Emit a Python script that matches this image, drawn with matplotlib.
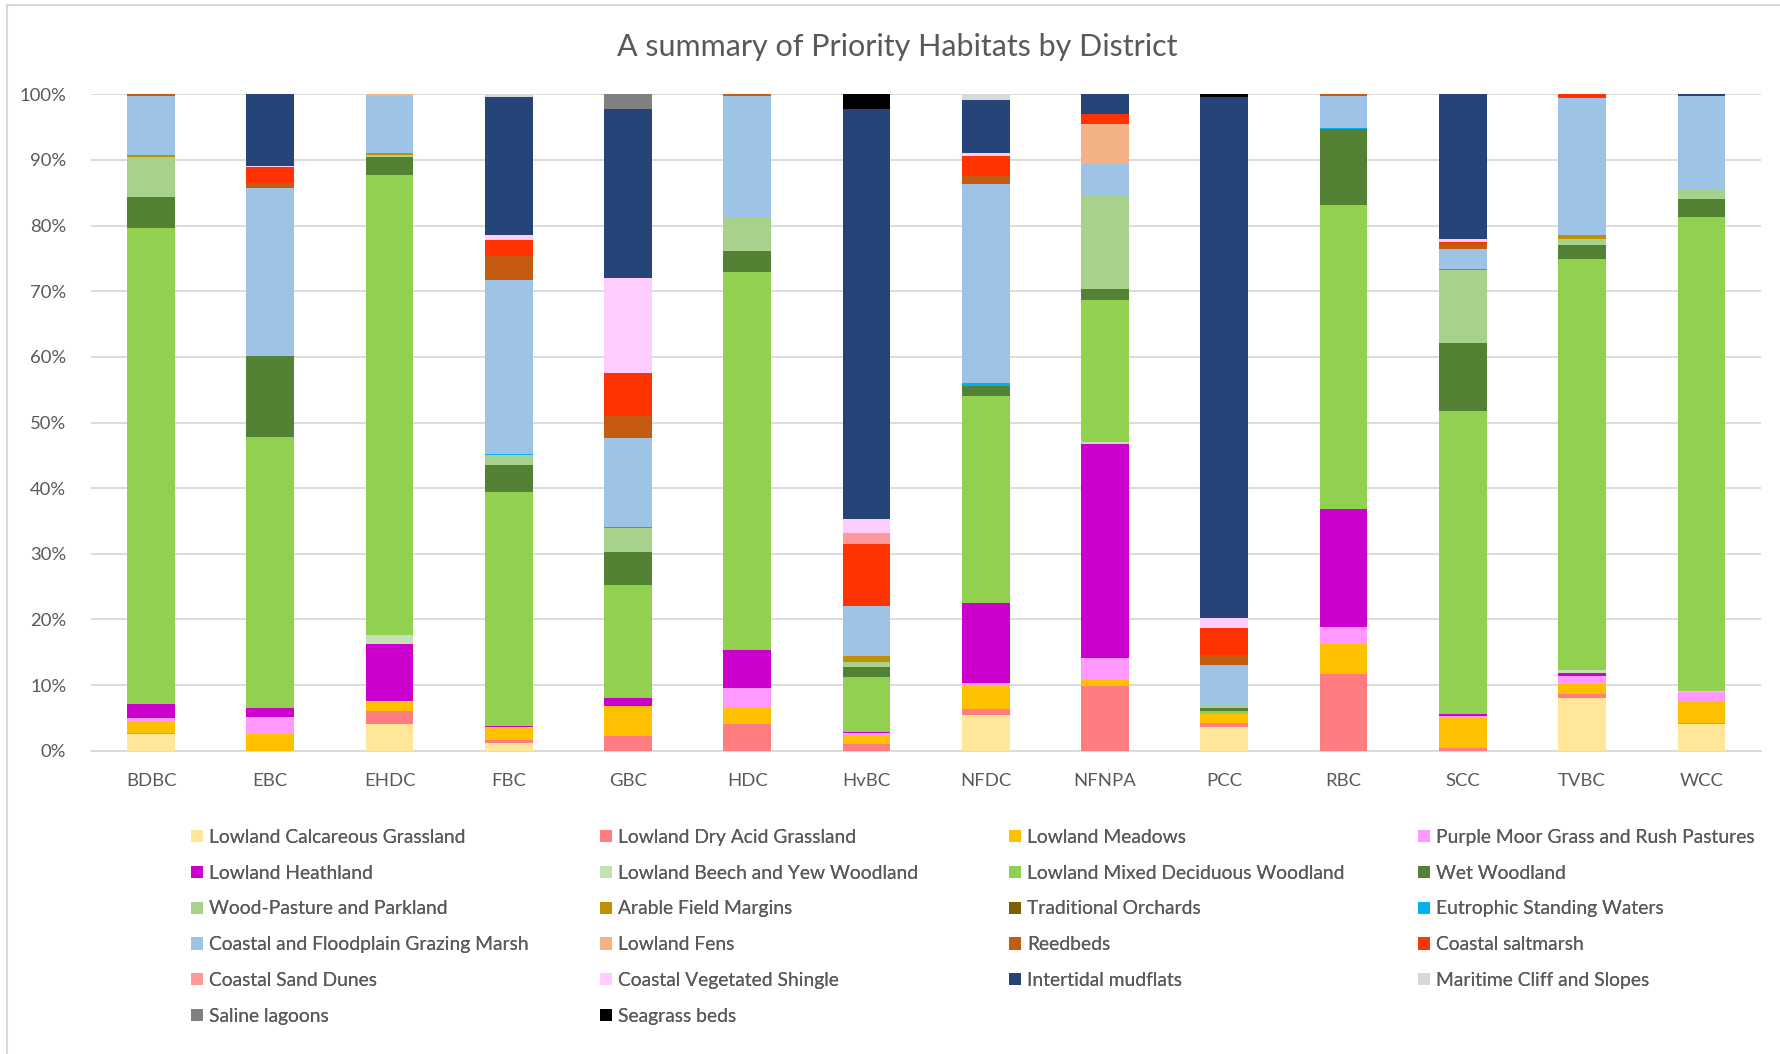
import matplotlib
matplotlib.use("Agg")
import matplotlib.pyplot as plt
from matplotlib.patches import Patch, Rectangle
from matplotlib.ticker import PercentFormatter
import numpy as np

plt.rcParams['font.family'] = ['Lato', 'DejaVu Sans']

districts = ["BDBC", "EBC", "EHDC", "FBC", "GBC", "HDC", "HvBC", "NFDC",
             "NFNPA", "PCC", "RBC", "SCC", "TVBC", "WCC"]

#                              BDBC  EBC  EHDC  FBC   GBC   HDC   HvBC  NFDC  NFNPA PCC   RBC   SCC   TVBC  WCC
lowland_calcareous_grassland = [2.5, 0.0, 4.1,  1.2,  0.0,  0.0,  0.0,  5.4,  0.0,  3.7,  0.0,  0.0,  8.0,  4.1]
lowland_dry_acid_grassland   = [0.2, 0.0, 1.9,  0.4,  2.2,  4.1,  1.0,  1.0,  9.9,  0.5, 11.7,  0.5,  0.7,  0.2]
lowland_meadows              = [1.9, 2.5, 1.4,  1.8,  4.7,  2.5,  1.4,  3.5,  0.9,  1.4,  4.5,  4.6,  1.4,  3.3]
purple_moor_grass            = [0.4, 2.7, 0.2,  0.2,  0.0,  2.9,  0.3,  0.5,  3.4,  0.0,  2.7,  0.2,  1.3,  1.3]
lowland_heathland            = [2.1, 1.3, 8.6,  0.2,  1.1,  5.8,  0.2, 12.1, 32.6,  0.0, 17.9,  0.3,  0.5,  0.0]
lowland_beech_yew            = [0.0, 0.0, 1.5,  0.0,  0.0,  0.0,  0.0,  0.0,  0.2,  0.0,  0.0,  0.0,  0.4,  0.2]
lowland_mixed_deciduous      = [72.5, 41.3, 70.0, 35.6, 17.2, 57.7, 8.3, 31.5, 21.6, 0.5, 46.4, 46.2, 62.6, 72.2]
wet_woodland                 = [4.7, 12.4, 2.7,  4.2,  5.1,  3.2,  1.6,  1.5,  1.8,  0.4, 11.5, 10.3,  2.1,  2.8]
wood_pasture_parkland        = [6.2, 0.0, 0.4,  1.5,  3.6,  4.9,  0.8,  0.0, 14.3,  0.4,  0.0, 11.1,  1.0,  1.5]
arable_field_margins         = [0.3, 0.0, 0.2,  0.0,  0.0,  0.1,  0.9,  0.0,  0.0,  0.0,  0.0,  0.0,  0.5,  0.0]
traditional_orchards         = [0.0, 0.0, 0.0,  0.0,  0.0,  0.0,  0.0,  0.0,  0.0,  0.0,  0.0,  0.0,  0.0,  0.0]
eutrophic_standing_waters    = [0.0, 0.0, 0.0,  0.1,  0.2,  0.0,  0.0,  0.6,  0.0,  0.0,  0.1,  0.2,  0.0,  0.0]
grazing_marsh                = [9.0, 25.6, 8.7, 26.5, 13.6, 18.6, 7.5, 30.3,  4.7,  6.2,  5.0,  3.1, 21.0, 14.1]
lowland_fens                 = [0.0, 0.0, 0.3,  0.0,  0.0,  0.0,  0.0,  0.0,  6.1,  0.0,  0.0,  0.0,  0.0,  0.0]
reedbeds                     = [0.2, 0.7, 0.0,  3.7,  3.3,  0.2,  0.0,  1.1,  0.0,  1.5,  0.2,  0.7,  0.0,  0.0]
coastal_saltmarsh            = [0.0, 2.4, 0.0,  2.4,  6.5,  0.0,  9.5,  3.1,  1.5,  4.1,  0.0,  0.3,  0.5,  0.0]
coastal_sand_dunes           = [0.0, 0.0, 0.0,  0.0,  0.0,  0.0,  1.7,  0.0,  0.0,  0.0,  0.0,  0.0,  0.0,  0.0]
coastal_vegetated_shingle    = [0.0, 0.2, 0.0,  0.7, 14.5,  0.0,  2.1,  0.5,  0.0,  1.5,  0.0,  0.5,  0.0,  0.0]
intertidal_mudflats          = [0.0, 10.9, 0.0, 21.1, 25.8, 0.0, 62.5,  8.0,  3.0, 79.4,  0.0, 22.0,  0.0,  0.3]
maritime_cliff_slopes        = [0.0, 0.0, 0.0,  0.4,  0.0,  0.0,  0.0,  0.9,  0.0,  0.0,  0.0,  0.0,  0.0,  0.0]
saline_lagoons               = [0.0, 0.0, 0.0,  0.0,  2.2,  0.0,  0.0,  0.0,  0.0,  0.0,  0.0,  0.0,  0.0,  0.0]
seagrass_beds                = [0.0, 0.0, 0.0,  0.0,  0.0,  0.0,  2.2,  0.0,  0.0,  0.4,  0.0,  0.0,  0.0,  0.0]

series_names = [
    "Lowland Calcareous Grassland", "Lowland Dry Acid Grassland", "Lowland Meadows",
    "Purple Moor Grass and Rush Pastures", "Lowland Heathland", "Lowland Beech and Yew Woodland",
    "Lowland Mixed Deciduous Woodland", "Wet Woodland", "Wood-Pasture and Parkland",
    "Arable Field Margins", "Traditional Orchards", "Eutrophic Standing Waters",
    "Coastal and Floodplain Grazing Marsh", "Lowland Fens", "Reedbeds", "Coastal saltmarsh",
    "Coastal Sand Dunes", "Coastal Vegetated Shingle", "Intertidal mudflats",
    "Maritime Cliff and Slopes", "Saline lagoons", "Seagrass beds",
]
series_values = [
    lowland_calcareous_grassland, lowland_dry_acid_grassland, lowland_meadows,
    purple_moor_grass, lowland_heathland, lowland_beech_yew, lowland_mixed_deciduous,
    wet_woodland, wood_pasture_parkland, arable_field_margins, traditional_orchards,
    eutrophic_standing_waters, grazing_marsh, lowland_fens, reedbeds, coastal_saltmarsh,
    coastal_sand_dunes, coastal_vegetated_shingle, intertidal_mudflats,
    maritime_cliff_slopes, saline_lagoons, seagrass_beds,
]
series_colors = [
    "#FFE699", "#FF7C80", "#FFC000", "#FF99FF", "#CC00CC", "#C5E0B4", "#92D050",
    "#548235", "#A9D18E", "#BF9000", "#7F6000", "#00B0F0", "#9DC3E6", "#F4B183",
    "#C55A11", "#FF3300", "#FF9999", "#FFCCFF", "#264478", "#D9D9D9", "#808080",
    "#000000",
]

W, H = 1781, 1054
fig = plt.figure(figsize=(W / 100, H / 100), dpi=100)
fig.patch.set_facecolor("white")
ax = fig.add_axes([91.4 / W, 1 - 750.8 / H, (1761 - 91.4) / W, (750.8 - 94.3) / H])

x = np.arange(len(districts))
data = np.array(series_values, dtype=float)
data = data / data.sum(axis=0, keepdims=True)
bottom = np.zeros(len(districts))
handles = []
for name, vals, col in zip(series_names, data, series_colors):
    ax.bar(x, vals, width=0.4, bottom=bottom, color=col, label=name, zorder=3, linewidth=0)
    bottom += vals
    handles.append(Patch(facecolor=col, edgecolor="none", label=name))

ax.set_xlim(-0.5, len(districts) - 0.5)
ax.set_ylim(0, 1)
ax.set_yticks(np.linspace(0, 1, 11))
ax.yaxis.set_major_formatter(PercentFormatter(1.0, decimals=0))
ax.grid(axis="y", color="#D9D9D9", linewidth=1.3, zorder=0)
ax.set_xticks(x)
ax.set_xticklabels(districts)
for s in ["top", "right", "left"]:
    ax.spines[s].set_visible(False)
ax.spines["bottom"].set_color("#D9D9D9")
ax.spines["bottom"].set_linewidth(1.3)
ax.tick_params(axis="both", length=0, colors="#595959", labelsize=13.3)
ax.tick_params(axis="y", pad=18)
ax.tick_params(axis="x", pad=16)

fig.text(897 / W, 1 - 47 / H, "A summary of Priority Habitats by District",
         ha="center", va="center", fontsize=22, color="#595959")

# legend: 4 equal-width columns, row-major order
col_x = [191, 600, 1009, 1418]
for c in range(4):
    hs = handles[c::4]
    leg = fig.legend(handles=hs, loc="upper left",
                     bbox_to_anchor=(col_x[c] / W, 1 - 829 / H),
                     frameon=False, fontsize=13.9, borderpad=0, borderaxespad=0,
                     handlelength=0.6, handleheight=0.6, handletextpad=0.35,
                     labelspacing=0.97, labelcolor="#595959")
    fig.add_artist(leg)

fig.add_artist(Rectangle((7 / W, -0.05), 1.2, 1 - 5 / H + 0.05, transform=fig.transFigure,
                         fill=False, edgecolor="#D9D9D9", linewidth=1.5, clip_on=False))

fig.savefig("out.png", dpi=100)
